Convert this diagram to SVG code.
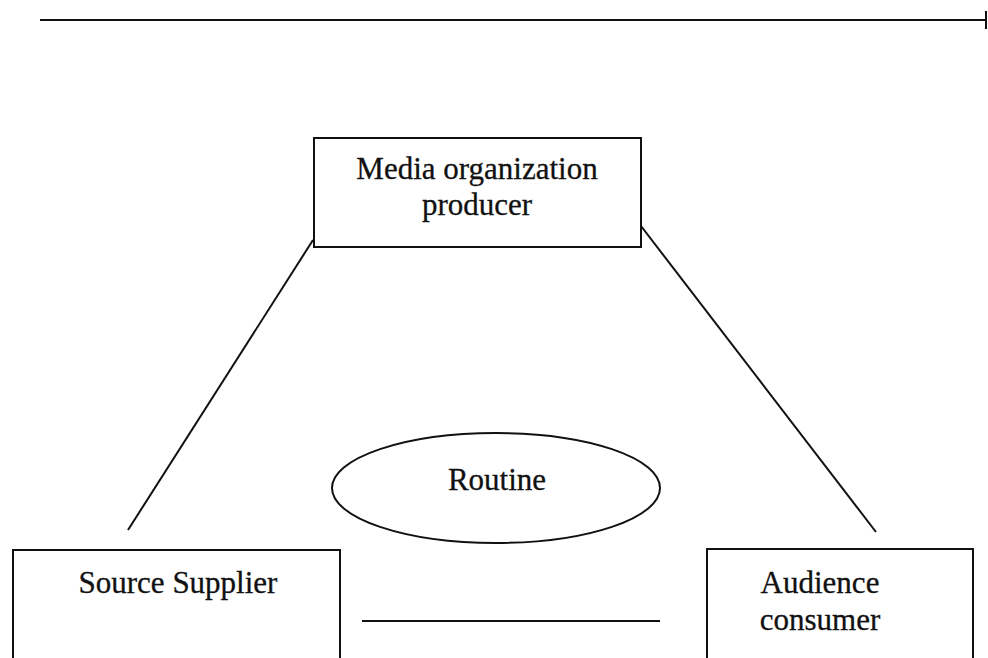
<svg xmlns="http://www.w3.org/2000/svg" width="988" height="658" viewBox="0 0 988 658">
<style>
.box{fill:#fff;stroke:#111;stroke-width:2}
.ln{stroke:#111;stroke-width:2;fill:none}
text{font-family:"Liberation Serif","Times New Roman",serif;font-size:31px;fill:#111;text-anchor:middle;stroke:#111;stroke-width:0.3}
</style>
<rect width="988" height="658" fill="#fff"/>
<g id="connectors">
<line class="ln" x1="40" y1="20" x2="986" y2="20" stroke-width="3"/>
<line class="ln" x1="986" y1="11" x2="986" y2="29" stroke-width="3"/>
<line class="ln" x1="313" y1="240" x2="128" y2="530"/>
<line class="ln" x1="641" y1="226" x2="876" y2="532"/>
<line class="ln" x1="362" y1="621" x2="660" y2="621" stroke-width="3"/>
</g>
<g id="media">
<rect class="box" x="314" y="138" width="327" height="109"/>
<text x="477" y="179">Media organization</text>
<text x="477" y="215">producer</text>
</g>
<g id="routine">
<ellipse class="box" cx="496" cy="488" rx="164" ry="55"/>
<text x="497" y="490">Routine</text>
</g>
<g id="source">
<rect class="box" x="13" y="550" width="327" height="120"/>
<text x="178" y="593">Source Supplier</text>
</g>
<g id="audience">
<rect class="box" x="707" y="549" width="266" height="121"/>
<text x="820" y="593">Audience</text>
<text x="820" y="630">consumer</text>
</g>
</svg>
